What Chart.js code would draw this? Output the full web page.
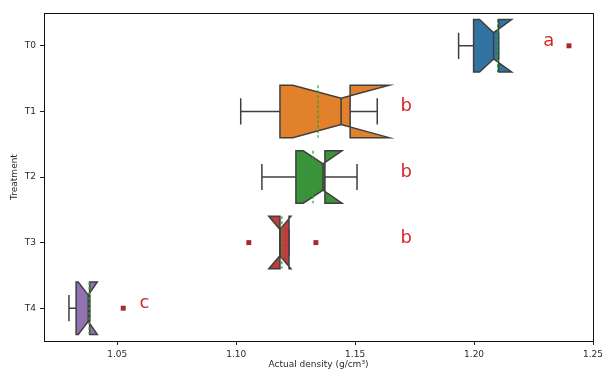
<!DOCTYPE html>
<html>
<head>
<meta charset="utf-8">
<script src="https://cdn.jsdelivr.net/npm/chart.js@4.4.1/dist/chart.umd.min.js"></script>
<style>
  body { margin: 0; background: #fff; }
  #wrap { width: 602px; height: 370px; }
</style>
</head>
<body>
<div id="wrap"><canvas id="chart" width="602" height="370"></canvas></div>
<script>
// box plot stats per treatment
const treatments = ["T0", "T1", "T2", "T3", "T4"];
const whiskerLow  = [1.1935, 1.1019, 1.1108, 1.1184, 1.0297];
const q1          = [1.1998, 1.1184, 1.1251, 1.1184, 1.0327];
const ciLow       = [1.2023, 1.1238, 1.1282, 1.1137, 1.0336];
const median      = [1.2082, 1.1441, 1.1365, 1.1184, 1.0378];
const ciHigh      = [1.2158, 1.1643, 1.1445, 1.1230, 1.0416];
const q3          = [1.2103, 1.1479, 1.1373, 1.1222, 1.0384];
const whiskerHigh = [1.2103, 1.1593, 1.1508, 1.1222, 1.0384];
const means       = [1.2099, 1.1344, 1.1323, 1.1192, 1.0382];

const outlierGroup = [0, 3, 3, 4];
const outlierValue = [1.2399, 1.1053, 1.1335, 1.0525];

const letters = ["a", "b", "b", "b", "c"];
const letterX = [1.2314, 1.1715, 1.1715, 1.1715, 1.0614];

const xTicks = [1.05, 1.10, 1.15, 1.20, 1.25];

const boxColors = ["#3274a1", "#e1812c", "#3a923a", "#c03d3e", "#9372b2"];
const edgeColor = "#3f3f3f";
const textColor = "#2b2b2b";
const font = "DejaVu Sans";

const boxPlugin = {
  id: "notchedBoxes",
  beforeDatasetsDraw(chart) {
    const ctx = chart.ctx;
    const xs = chart.scales.x;
    const ys = chart.scales.y;
    const area = chart.chartArea;
    ctx.save();
    ctx.beginPath();
    ctx.rect(area.left, area.top, area.right - area.left, area.bottom - area.top);
    ctx.clip();
    treatments.forEach((t, i) => {
      const px = v => xs.getPixelForValue(v);
      const py = off => ys.getPixelForValue(i + off);
      const yc = py(0);
      ctx.lineWidth = 1.5;
      ctx.strokeStyle = edgeColor;
      // whiskers + caps
      ctx.beginPath();
      ctx.moveTo(px(whiskerLow[i]), yc); ctx.lineTo(px(q1[i]), yc);
      ctx.moveTo(px(q3[i]), yc); ctx.lineTo(px(whiskerHigh[i]), yc);
      ctx.moveTo(px(whiskerLow[i]), py(-0.2)); ctx.lineTo(px(whiskerLow[i]), py(0.2));
      ctx.moveTo(px(whiskerHigh[i]), py(-0.2)); ctx.lineTo(px(whiskerHigh[i]), py(0.2));
      ctx.stroke();
      // notched box (matplotlib path order)
      const pts = [
        [q1[i], -0.4], [q1[i], 0.4], [ciLow[i], 0.4], [median[i], 0.2],
        [ciHigh[i], 0.4], [q3[i], 0.4], [q3[i], -0.4], [ciHigh[i], -0.4],
        [median[i], -0.2], [ciLow[i], -0.4]
      ];
      ctx.beginPath();
      pts.forEach((p, k) => {
        if (k === 0) ctx.moveTo(px(p[0]), py(p[1]));
        else ctx.lineTo(px(p[0]), py(p[1]));
      });
      ctx.closePath();
      ctx.fillStyle = boxColors[i];
      ctx.fill();
      ctx.stroke();
      // median
      ctx.beginPath();
      ctx.moveTo(px(median[i]), py(-0.2));
      ctx.lineTo(px(median[i]), py(0.2));
      ctx.stroke();
      // mean line
      ctx.save();
      ctx.setLineDash([3, 2]);
      ctx.lineWidth = 1.2;
      ctx.strokeStyle = "#2ca02c";
      ctx.beginPath();
      ctx.moveTo(px(means[i]), py(-0.4));
      ctx.lineTo(px(means[i]), py(0.4));
      ctx.stroke();
      ctx.restore();
    });
    ctx.restore();
  },
  afterDatasetsDraw(chart) {
    const ctx = chart.ctx;
    const xs = chart.scales.x;
    const ys = chart.scales.y;
    ctx.save();
    ctx.fillStyle = "#d62728";
    ctx.font = "18px '" + font + "'";
    ctx.textAlign = "center";
    ctx.textBaseline = "alphabetic";
    letters.forEach((l, i) => {
      ctx.fillText(l, xs.getPixelForValue(letterX[i]), ys.getPixelForValue(i));
    });
    ctx.restore();
  },
  afterDraw(chart) {
    const a = chart.chartArea;
    const ctx = chart.ctx;
    ctx.save();
    ctx.strokeStyle = "#111";
    ctx.lineWidth = 1;
    ctx.strokeRect(Math.round(a.left) + 0.5, Math.round(a.top) + 0.5,
      Math.round(a.right - a.left), Math.round(a.bottom - a.top));
    ctx.restore();
  }
};

const ctx = document.getElementById("chart").getContext("2d");
new Chart(ctx, {
  type: "scatter",
  data: {
    datasets: [{
      data: outlierValue.map((v, k) => ({ x: v, y: outlierGroup[k] })),
      pointStyle: "rect",
      pointRadius: 3.5,
      backgroundColor: "#a52a2a",
      borderColor: "#a52a2a",
      borderWidth: 0
    }]
  },
  options: {
    responsive: false,
    devicePixelRatio: 1,
    animation: false,
    layout: { padding: { top: 13, right: 9, left: 0, bottom: 0 } },
    plugins: { legend: { display: false }, tooltip: { enabled: false } },
    scales: {
      x: {
        type: "linear",
        min: 1.0192,
        max: 1.25,
        afterBuildTicks: s => { s.ticks = xTicks.map(v => ({ value: v })); },
        afterFit: s => { s.height = 29; s.paddingLeft = 0; s.paddingRight = 0; },
        grid: { drawOnChartArea: false, drawTicks: true, tickLength: 4, color: "#222" },
        border: { display: false },
        ticks: {
          padding: 4,
          color: textColor,
          font: { family: font, size: 9 },
          callback: v => Number(v).toFixed(2)
        },
        title: {
          display: true,
          text: "Actual density (g/cm³)",
          color: textColor,
          font: { family: font, size: 9 },
          padding: { top: 0, bottom: 0 }
        }
      },
      y: {
        type: "linear",
        reverse: true,
        min: -0.5,
        max: 4.5,
        afterBuildTicks: s => { s.ticks = treatments.map((t, i) => ({ value: i })); },
        afterFit: s => { s.width = 44; s.paddingTop = 0; s.paddingBottom = 0; },
        grid: { drawOnChartArea: false, drawTicks: true, tickLength: 4, color: "#222" },
        border: { display: false },
        ticks: {
          padding: 4,
          color: textColor,
          font: { family: font, size: 9 },
          callback: v => treatments[v]
        },
        title: {
          display: true,
          text: "Treatment",
          color: textColor,
          font: { family: font, size: 9 },
          padding: { top: 9.5, bottom: 0 }
        }
      }
    }
  },
  plugins: [boxPlugin]
});
</script>
</body>
</html>
